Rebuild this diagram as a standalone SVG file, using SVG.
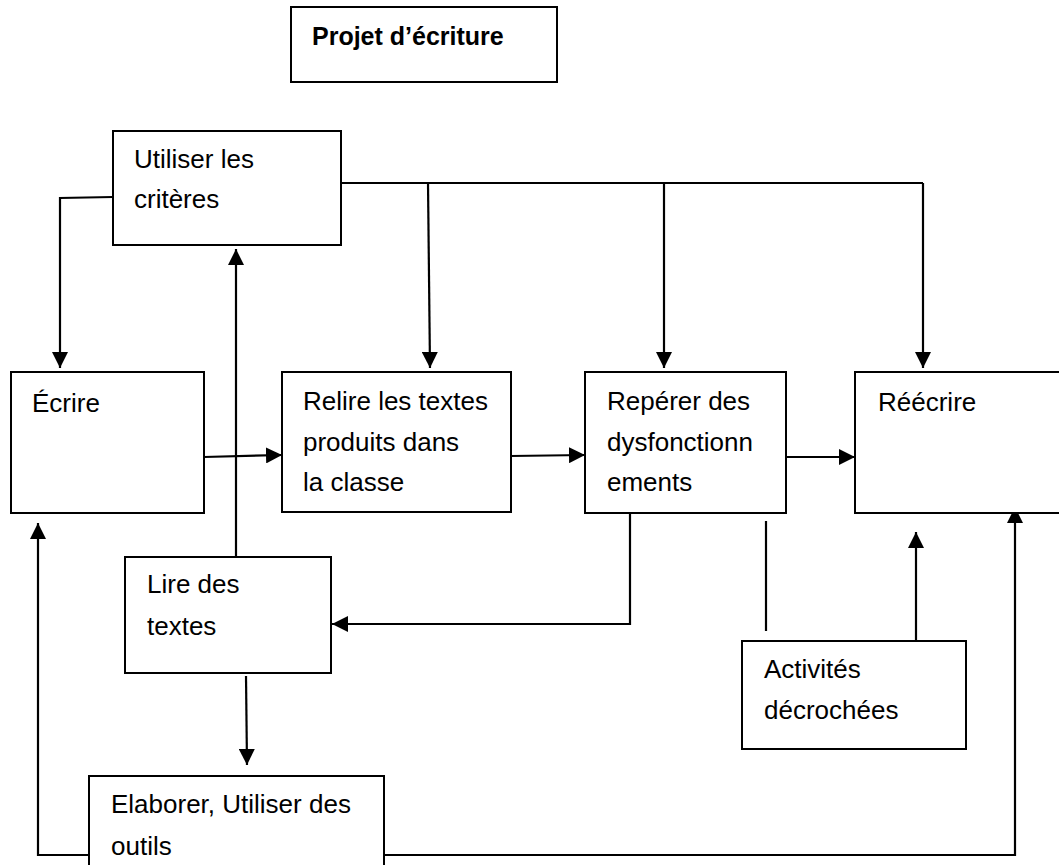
<svg xmlns="http://www.w3.org/2000/svg" width="1059" height="865" viewBox="0 0 1059 865">
<defs>
<marker id="arr" markerWidth="16" markerHeight="16" refX="16" refY="8" orient="auto" markerUnits="userSpaceOnUse">
<path d="M0,0 L16,8 L0,16 Z" fill="#000"/>
</marker>
<style>
.box{fill:#fff;stroke:#000;stroke-width:2}
.t{font-family:"Liberation Sans",Arial,sans-serif;font-size:26px;fill:#000}
.tb{font-family:"Liberation Sans",Arial,sans-serif;font-size:25px;font-weight:bold;fill:#000}
.c{fill:none;stroke:#000;stroke-width:2.2}
.a{marker-end:url(#arr)}
</style>
</defs>
<rect width="1059" height="865" fill="#fff"/>
<g id="connectors">
<path class="c a" d="M113,197 L60,198 L60,368"/>
<path class="c" d="M341,183 H923"/>
<path class="c a" d="M428,183 L430,368"/>
<path class="c a" d="M664,183 V368"/>
<path class="c a" d="M923,183 V368"/>
<path class="c a" d="M204,457 L282,455"/>
<path class="c a" d="M511,456 L585,455"/>
<path class="c a" d="M786,457 L855,457"/>
<path class="c a" d="M236,557 V249"/>
<path class="c a" d="M630,513 V624 H332"/>
<path class="c a" d="M246,676 L247,765"/>
<path class="c a" d="M89,855 H38 V523"/>
<path class="c a" d="M384,855 H1015 V507"/>
<path class="c" d="M766,521 V631"/>
<path class="c a" d="M916,641 V532"/>
</g>
<g id="projet">
<rect class="box" x="291" y="7" width="266" height="75"/>
<text class="tb" x="312" y="45">Projet d’écriture</text>
</g>
<g id="utiliser">
<rect class="box" x="113" y="131" width="228" height="114"/>
<text class="t" x="134" y="168">Utiliser les</text>
<text class="t" x="134" y="208">critères</text>
</g>
<g id="ecrire">
<rect class="box" x="11" y="372" width="193" height="141"/>
<text class="t" x="32" y="412">Écrire</text>
</g>
<g id="relire">
<rect class="box" x="282" y="372" width="229" height="140"/>
<text class="t" x="303" y="410">Relire les textes</text>
<text class="t" x="303" y="451">produits dans</text>
<text class="t" x="303" y="491">la classe</text>
</g>
<g id="reperer">
<rect class="box" x="585" y="372" width="201" height="141"/>
<text class="t" x="607" y="410">Repérer des</text>
<text class="t" x="607" y="451">dysfonctionn</text>
<text class="t" x="607" y="491">ements</text>
</g>
<g id="reecrire">
<rect class="box" x="855" y="372" width="220" height="141"/>
<text class="t" x="878" y="411">Réécrire</text>
</g>
<g id="lire">
<rect class="box" x="125" y="557" width="206" height="116"/>
<text class="t" x="147" y="593">Lire des</text>
<text class="t" x="147" y="635">textes</text>
</g>
<g id="activites">
<rect class="box" x="742" y="641" width="224" height="108"/>
<text class="t" x="764" y="678">Activités</text>
<text class="t" x="764" y="719">décrochées</text>
</g>
<g id="elaborer">
<rect class="box" x="89" y="776" width="295" height="110"/>
<text class="t" x="111" y="813">Elaborer, Utiliser des</text>
<text class="t" x="111" y="855">outils</text>
</g>
</svg>
